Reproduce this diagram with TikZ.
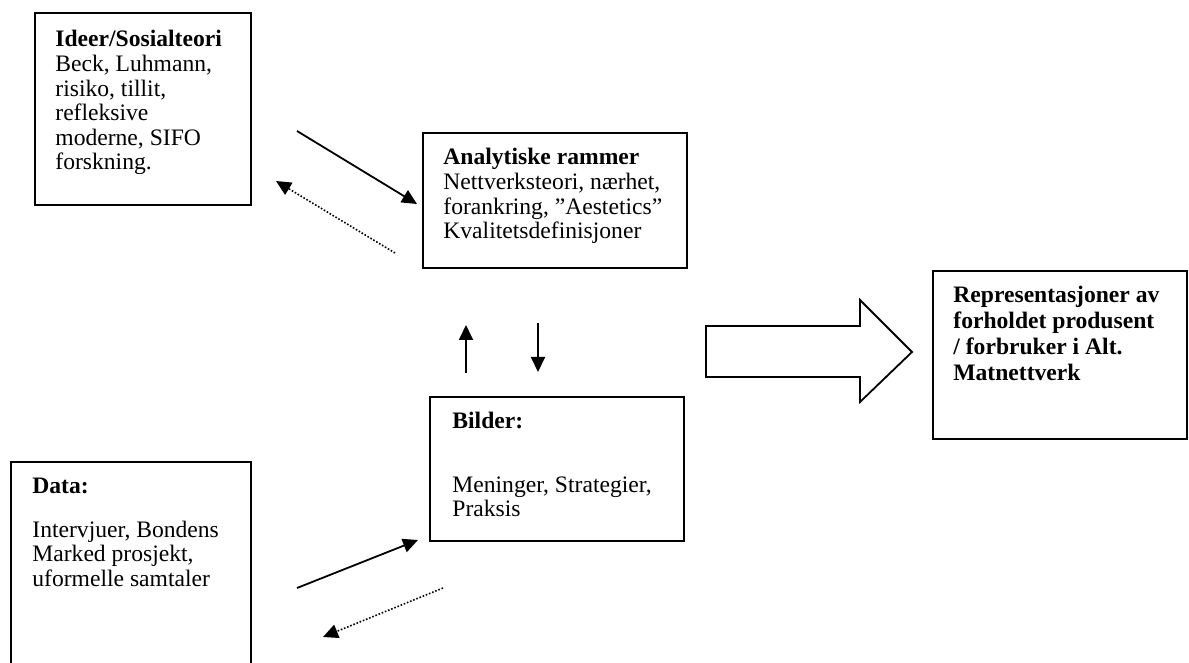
\documentclass[tikz,border=0pt]{standalone}
\usepackage{fontspec}
\setmainfont{Liberation Serif}
\usetikzlibrary{positioning,arrows.meta,calc}
\newcommand{\toplines}[1]{\begin{tabular}[t]{@{}l@{}}#1\end{tabular}}
\tikzset{
  box/.style  ={draw=black, line width=0.9pt, anchor=north west,
                inner sep=0pt},
  txt/.style  ={anchor=base west, inner sep=0pt,
                font=\fontsize{11.8}{12.3}\selectfont},
  txtb/.style ={anchor=base west, inner sep=0pt,
                font=\fontsize{11.8}{12.85}\selectfont\bfseries},
  ar/.style   ={-{Triangle[length=7.5pt,width=7pt]}, line width=0.9pt},
  ard/.style  ={-{Triangle[length=7.5pt,width=7pt]}, line width=0.8pt,
                dash pattern=on 0.8pt off 0.9pt},
  blk/.style  ={draw=black, line width=0.9pt, fill=white}
}

\begin{document}
\begin{tikzpicture}[x=0.5pt,y=-0.5pt]
\useasboundingbox (0,0) rectangle (1189,663);
\clip (0,0) rectangle (1189,663);

% boxes
\node[box, minimum width=108pt, minimum height=96pt] (ideer) at (34,12) {};
\node[box, minimum width=132pt, minimum height=67.5pt] (ana) at (422,132) {};
\node[box, minimum width=127pt, minimum height=72pt] (bild) at (429,396) {};
\node[box, minimum width=120pt, minimum height=130pt] (data) at (10,461) {};
\node[box, minimum width=127pt, minimum height=84pt] (rep) at (932,270) {};

% texts
\node[txt] (ideerT) at (55,47)
  {\toplines{\textbf{Ideer/Sosialteori}\\Beck, Luhmann,\\risiko, tillit,\\refleksive\\moderne, SIFO\\forskning.}};
\node[txt] (anaT) at (443,165)
  {\toplines{\textbf{Analytiske rammer}\\Nettverksteori, nærhet,\\forankring, ”Aestetics”\\Kvalitetsdefinisjoner}};
\node[txt] (bildH) at (452,429) {\textbf{Bilder:}};
\node[txt] (bildT) at (452,492) {\toplines{Meninger, Strategier,\\Praksis}};
\node[txt] (dataH) at (32,493) {\textbf{Data:}};
\node[txt] (dataT) at (32,537) {\toplines{Intervjuer, Bondens\\Marked prosjekt,\\uformelle samtaler}};
\node[txtb] (repT) at (953,303)
  {\toplines{Representasjoner av\\forholdet produsent\\/ forbruker i Alt.\\Matnettverk}};

% arrows
\coordinate (a1s) at (297,131);
\coordinate (a1e) at (417,204);
\coordinate (a2s) at (395,253);
\coordinate (a2e) at (276,181);
\coordinate (upS) at (466,373);
\coordinate (upE) at (466,325);
\coordinate (dnS) at (538,323);
\coordinate (dnE) at (538,372);
\coordinate (a3s) at (297,588);
\coordinate (a3e) at (418,540);
\coordinate (a4s) at (443,588);
\coordinate (a4e) at (323,637);

\draw[ar] (a1s) -- (a1e);
\draw[ard] (a2s) -- (a2e);
\draw[ar] (upS) -- (upE);
\draw[ar] (dnS) -- (dnE);
\draw[ar] (a3s) -- (a3e);
\draw[ard] (a4s) -- (a4e);

% block arrow
\draw[blk] (706,326) -- (860,326) -- (860,300) -- (912,352)
  -- (860,402) -- (860,377) -- (706,377) -- cycle;
\end{tikzpicture}
\end{document}
